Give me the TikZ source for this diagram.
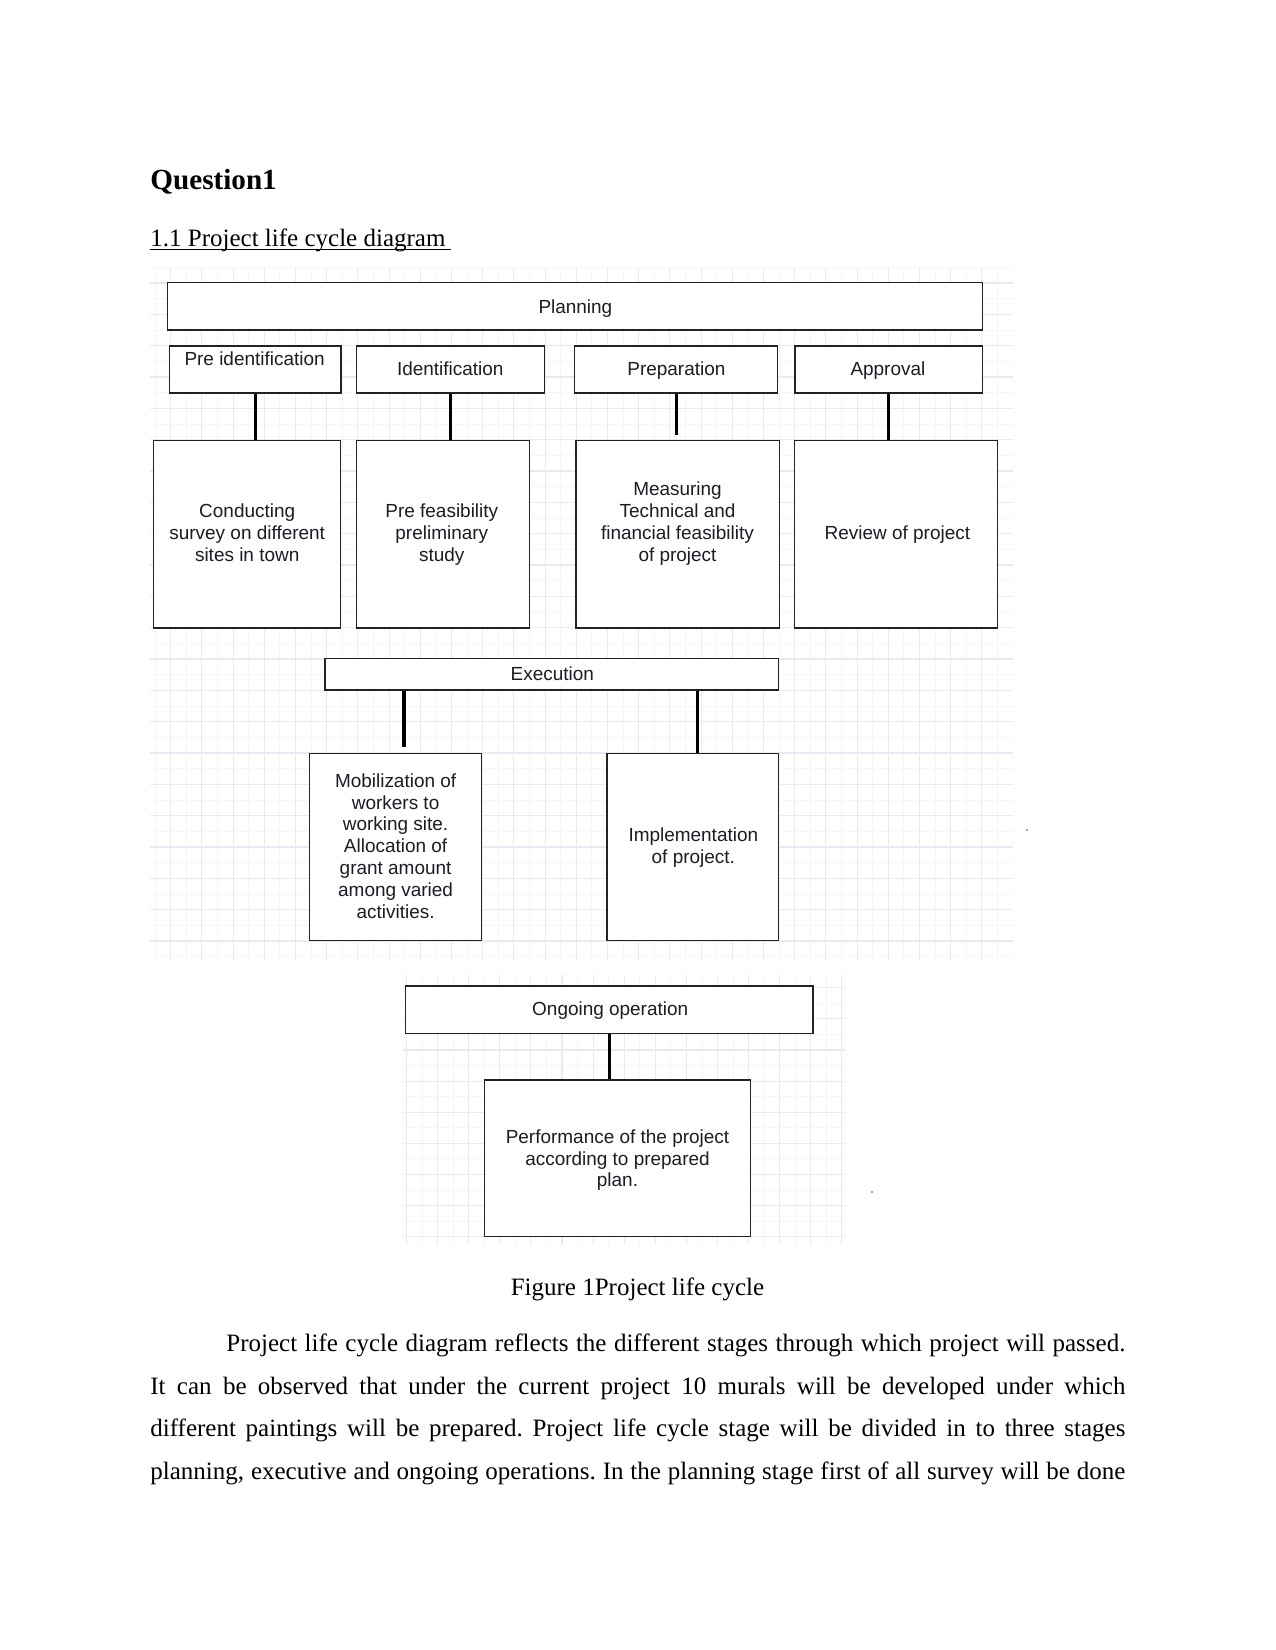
\documentclass[tikz,border=0pt]{standalone}
\usepackage{fontspec}
\setmainfont{Liberation Serif}
\newfontfamily\diafont{Liberation Sans}
\usetikzlibrary{fit}
\frenchspacing
\definecolor{gridmaj}{RGB}{233,233,243}
\definecolor{gridmin}{RGB}{245,245,250}
\definecolor{boxc}{RGB}{34,34,34}
\definecolor{txtc}{RGB}{28,28,38}
\definecolor{dotc}{RGB}{120,120,210}
\tikzset{
  box/.style={draw=boxc, line width=0.65pt, inner sep=0pt, fill=white},
  conn/.style={draw=black, line width=1.45pt},
  dtext/.style={font=\diafont\fontsize{9.1}{10.5}\selectfont, align=center, inner sep=0pt, text=txtc, yshift=-1.5pt},
  body/.style={font=\fontsize{12}{14}\selectfont, inner sep=0pt, anchor=base west},
  gmaj/.style={draw=gridmaj, line width=0.55pt},
  gmin/.style={draw=gridmin, line width=0.4pt},
}
\begin{document}
\begin{tikzpicture}[x=0.48pt,y=-0.48pt]
\fill[white] (0,0) rectangle (1275,1650);
\useasboundingbox (0,0) rectangle (1275,1650);

% headings
\node[body, font=\fontsize{14}{16}\selectfont\bfseries] (q1) at (150,189.3) {Question1};
\node[body] (sec) at (150,246.7) {1.1 Project life cycle diagram };
\draw[line width=0.6pt] (sec.base west) ++(0,3) coordinate (ul1) -- (450.7,249.7) coordinate (ul2);

% grid 1
\begin{scope}
\clip (150,268) rectangle (1013,960);
\foreach \k in {0,...,27} {\draw[gmin] ({155.1+31.2*\k},268) -- ({155.1+31.2*\k},960);}
\foreach \k in {0,...,22} {\draw[gmin] (150,{267.35+31.33*\k}) -- (1013,{267.35+31.33*\k});}
\foreach \k in {0,...,27} {\draw[gmaj] ({170.7+31.2*\k},268) -- ({170.7+31.2*\k},960);}
\foreach \k in {0,...,21} {\draw[gmaj] (150,{283+31.33*\k}) -- (1013,{283+31.33*\k});}
\end{scope}
% grid 2
\begin{scope}
\clip (403,975) rectangle (845,1245);
\foreach \k in {0,...,14} {\draw[gmin] ({422.05+31.1*\k},975) -- ({422.05+31.1*\k},1245);}
\foreach \k in {0,...,8} {\draw[gmin] (403,{1003.35+31.1*\k}) -- (845,{1003.35+31.1*\k});}
\foreach \k in {0,...,14} {\draw[gmaj] ({406.5+31.1*\k},975) -- ({406.5+31.1*\k},1245);}
\foreach \k in {0,...,8} {\draw[gmaj] (403,{987.8+31.1*\k}) -- (845,{987.8+31.1*\k});}
\end{scope}

% boxes
\node[box, fit={(167.3,282.3) (982.5,330)}] (plan) {};
\node[box, fit={(169.3,346) (341,393)}] (preid) {};
\node[box, fit={(356.6,346) (544.3,393)}] (ident) {};
\node[box, fit={(574.3,346) (777.7,393)}] (prep) {};
\node[box, fit={(795,346) (982.5,393)}] (appr) {};
\node[box, fit={(153.6,440.5) (340.8,628)}] (cond) {};
\node[box, fit={(356.6,440.5) (529.3,628)}] (prefeas) {};
\node[box, fit={(576,440.5) (779.3,628)}] (meas) {};
\node[box, fit={(794.3,440.5) (997.3,628)}] (review) {};
\node[box, fit={(325,658.6) (778.5,690)}] (exec) {};
\node[box, fit={(309.8,753.2) (481.5,940.5)}] (mob) {};
\node[box, fit={(607,753.2) (778.5,940.5)}] (impl) {};
\node[box, fit={(405.7,986) (813,1033.3)}] (ongo) {};
\node[box, fit={(484.3,1080) (750.7,1236.7)}] (perf) {};

% texts
\node[dtext] (plant) at (575.4,306.1) {\strut Planning\strut};
\node[dtext] (preidt) at (254.6,357.7) {\strut Pre identification\strut};
\node[dtext] (identt) at (450.3,368.2) {\strut Identification\strut};
\node[dtext] (prept) at (676.4,368.2) {\strut Preparation\strut};
\node[dtext] (apprt) at (887.9,368.2) {\strut Approval\strut};
\node[dtext] (condt) at (247.2,532.3) {\strut Conducting\\survey on different\\sites in town\strut};
\node[dtext] (prefeast) at (441.8,532.3) {\strut Pre feasibility\\preliminary\\study\strut};
\node[dtext] (meast) at (677.5,521.3) {\strut Measuring\\Technical and\\financial feasibility\\of project\strut};
\node[dtext] (reviewt) at (897.4,532.3) {\strut Review of project\strut};
\node[dtext] (exect) at (552.3,673.3) {\strut Execution\strut};
\node[dtext] (mobt) at (395.6,845.3) {\strut Mobilization of\\workers to\\working site.\\Allocation of\\grant amount\\among varied\\activities.\strut};
\node[dtext] (implt) at (693.3,845.3) {\strut Implementation\\of project.\strut};
\node[dtext] (ongot) at (610.2,1007.8) {\strut Ongoing operation\strut};
\node[dtext] (perft) at (617.5,1157.5) {\strut Performance of the project\\according to prepared\\plan.\strut};

% connectors
\draw[conn] (preid.south) -- (preid.south |- cond.north);
\draw[conn] (ident.south) -- (ident.south |- prefeas.north);
\coordinate (prepend) at (676,435);
\draw[conn] (prep.south) -- (prep.south |- prepend);
\draw[conn] (appr.south) -- (appr.south |- review.north);
\coordinate (e1) at (404,747);
\draw[conn] (exec.south -| e1) -- (e1);
\coordinate (e2x) at (697.6,700);
\draw[conn] (exec.south -| e2x) -- (impl.north -| e2x);
\draw[conn] (ongo.south) -- (ongo.south |- perf.north);

% specks
\fill[dotc] (1027,830) circle (1.1);
\fill[dotc] (872,1192) circle (1.1);

% caption and body
\node[body, anchor=base] (cap) at (637.5,1295) {Figure 1Project life cycle};
\node[body] (l1) at (226,1351) {\hbox to 431.5pt{Project life cycle diagram reflects the different stages through which project will passed.}};
\node[body] (l2) at (150,1394) {\hbox to 468pt{It can be observed that under the current project 10 murals will be developed under which}};
\node[body] (l3) at (150,1436.7) {\hbox to 468pt{different paintings will be prepared. Project life cycle stage will be divided in to three stages}};
\node[body] (l4) at (150,1479.3) {\hbox to 468pt{planning, executive and ongoing operations. In the planning stage first of all survey will be done}};
\end{tikzpicture}
\end{document}
